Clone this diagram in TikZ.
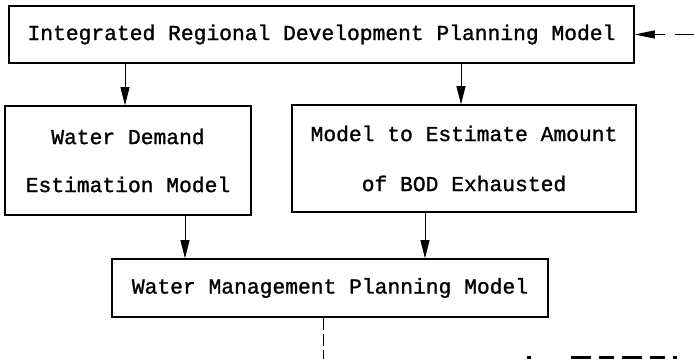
\documentclass[tikz,border=0pt]{standalone}
\usepackage{fontspec}
\newfontfamily\tw[FakeBold=1.2]{Liberation Mono}
\usetikzlibrary{arrows.meta}
\begin{document}
\begin{tikzpicture}[x=1pt,y=1pt,
  box/.style={draw=black, line width=1.5pt, rectangle, inner sep=0pt, align=center},
  arr/.style={line width=0.8pt, -{Triangle[length=18pt,width=9pt]}},
  lbl/.style={font=\tw\fontsize{21.3}{48}\selectfont}]
\useasboundingbox (0,0) rectangle (694,359);
\fill[white] (0,0) rectangle (694,359);
\node[box, lbl, minimum width=625pt, minimum height=57pt] (top) at (321.5,324.5)
  {Integrated Regional Development Planning Model};
\node[box, lbl, minimum width=246pt, minimum height=109pt] (lb) at (128,198.5)
  {Water Demand\\Estimation Model};
\node[box, lbl, font=\tw\fontsize{21.3}{50}\selectfont, minimum width=344pt, minimum height=107pt] (rb) at (464,200.5)
  {Model to Estimate Amount\\of BOD Exhausted};
\node[box, lbl, minimum width=436pt, minimum height=58pt] (bb) at (330,71)
  {Water Management Planning Model};
\coordinate (a1) at (125,0);
\coordinate (a2) at (461,0);
\coordinate (a3) at (185,0);
\coordinate (a4) at (425,0);
\coordinate (out) at (323,0);
\coordinate (in) at (694,324.5);
\coordinate (s1) at (527,0);
\coordinate (s2) at (694,0);
\draw[arr] (top.south -| a1) -- (lb.north -| a1);
\draw[arr] (top.south -| a2) -- (rb.north -| a2);
\draw[arr] (lb.south -| a3) -- (bb.north -| a3);
\draw[arr] (rb.south -| a4) -- (bb.north -| a4);
\draw[line width=0.8pt, dash pattern=on 12pt off 4pt] (bb.south -| out) -- (out);
\draw[line width=1.2pt, dash pattern=on 19pt off 10pt, -{Triangle[length=20pt,width=8pt]}] (in) -- (top.east);
\draw[line width=5pt, dash pattern=on 4pt off 40pt on 20pt off 8pt on 15pt off 8pt on 20pt off 8pt on 15pt off 8pt] (s1) -- (s2);
\end{tikzpicture}
\end{document}
